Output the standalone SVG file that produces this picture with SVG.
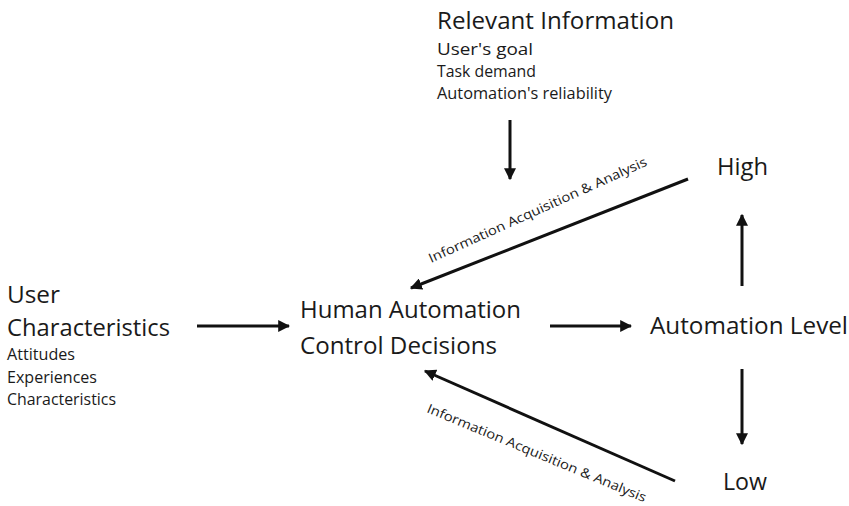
<svg xmlns="http://www.w3.org/2000/svg" width="849" height="506" viewBox="0 0 849 506">
<defs>
<marker id="ah" viewBox="0 0 10 10" refX="9" refY="5" markerWidth="4" markerHeight="4" orient="auto" markerUnits="strokeWidth">
<path d="M0,0 L10,5 L0,10 z" fill="#111"/>
</marker>
<style>
text{font-family:"Open Sans","Liberation Sans",sans-serif;fill:#1a1a1a}
.big{font-size:24px}
.small{font-size:16.5px}
.lbl{font-size:13px}
.c{stroke:#111;stroke-width:3;fill:none;marker-end:url(#ah)}
</style>
</defs>
<rect width="849" height="506" fill="#fff"/>
<g id="relevant">
<text class="big" x="437" y="29" textLength="237" lengthAdjust="spacingAndGlyphs">Relevant Information</text>
<text class="small" x="437" y="55" textLength="96" lengthAdjust="spacingAndGlyphs">User's goal</text>
<text class="small" x="437" y="77" textLength="99" lengthAdjust="spacingAndGlyphs">Task demand</text>
<text class="small" x="437" y="99" textLength="175" lengthAdjust="spacingAndGlyphs">Automation's reliability</text>
</g>
<g id="user">
<text class="big" x="7" y="303" textLength="53" lengthAdjust="spacingAndGlyphs">User</text>
<text class="big" x="7" y="336" textLength="163" lengthAdjust="spacingAndGlyphs">Characteristics</text>
<text class="small" x="7" y="360" textLength="68" lengthAdjust="spacingAndGlyphs">Attitudes</text>
<text class="small" x="7" y="383" textLength="90" lengthAdjust="spacingAndGlyphs">Experiences</text>
<text class="small" x="7" y="405" textLength="109" lengthAdjust="spacingAndGlyphs">Characteristics</text>
</g>
<g id="hacd">
<text class="big" x="300" y="318" textLength="221" lengthAdjust="spacingAndGlyphs">Human Automation</text>
<text class="big" x="300" y="354" textLength="197" lengthAdjust="spacingAndGlyphs">Control Decisions</text>
</g>
<g id="level">
<text class="big" x="650" y="334" textLength="198" lengthAdjust="spacingAndGlyphs">Automation Level</text>
</g>
<g id="high">
<text class="big" x="717" y="175" textLength="51" lengthAdjust="spacingAndGlyphs">High</text>
</g>
<g id="low">
<text class="big" x="723" y="490" textLength="44" lengthAdjust="spacingAndGlyphs">Low</text>
</g>
<g id="connectors">
<line class="c" x1="510" y1="120" x2="510" y2="179"/>
<line class="c" x1="688" y1="179" x2="411" y2="288"/>
<line class="c" x1="197" y1="326" x2="289" y2="326"/>
<line class="c" x1="550" y1="326" x2="631" y2="326"/>
<line class="c" x1="742" y1="286" x2="742" y2="215"/>
<line class="c" x1="742" y1="369" x2="742" y2="444"/>
<line class="c" x1="675" y1="481" x2="425" y2="371"/>
<text class="lbl" transform="translate(431,263) rotate(-24.3)" textLength="238" lengthAdjust="spacingAndGlyphs">Information Acquisition &amp; Analysis</text>
<text class="lbl" transform="translate(426,412) rotate(22.5)" textLength="236" lengthAdjust="spacingAndGlyphs">Information Acquisition &amp; Analysis</text>
</g>
</svg>
